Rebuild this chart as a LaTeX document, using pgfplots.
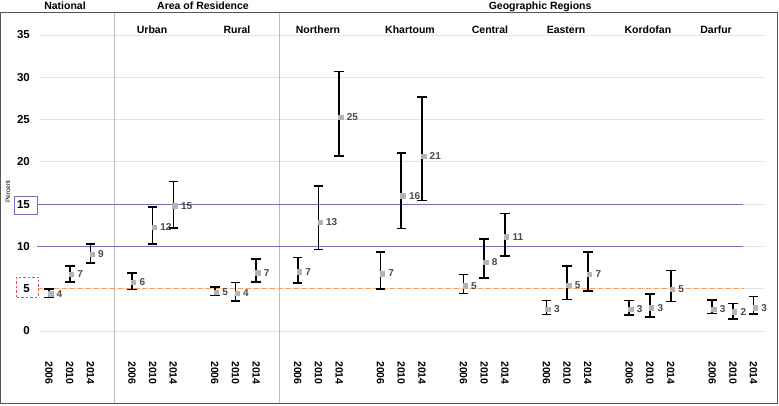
\documentclass[border=0pt]{standalone}
\usepackage{pgfplots}
\pgfplotsset{compat=1.18}
\usepackage{pgfplotstable}
\usepackage{fontspec}
\setmainfont{Liberation Sans}
\definecolor{frame}{HTML}{555555}
\definecolor{gridc}{HTML}{E4E4E4}
\definecolor{sepc}{HTML}{BDBDBD}
\definecolor{purp}{HTML}{7A6CC0}
\definecolor{orng}{HTML}{F2A064}
\definecolor{redb}{HTML}{E05050}
\definecolor{ptc}{HTML}{B4B4B4}
\definecolor{labc}{HTML}{4A4A4A}

\pgfplotstableread{
x y ep em lab
0 4.4 0.57 0.46 4
1 6.7 1.0 0.87 7
2 9.1 1.2 1.06 9
4 5.8 1.06 0.88 6
5 12.3 2.36 2.01 12
6 14.8 2.9 2.6 15
8 4.6 0.64 0.42 5
9 4.45 1.3 0.9 4
10 6.9 1.6 1.1 7
12 7.0 1.67 1.3 7
13 12.9 4.25 3.24 13
14 25.3 5.36 4.6 25
16 6.8 2.54 1.8 7
17 16.0 5.05 3.86 16
18 20.7 7.0 5.25 21
20 5.36 1.3 0.91 5
21 8.16 2.74 1.89 8
22 11.15 2.75 2.25 11
24 2.6 0.99 0.63 3
25 5.44 2.25 1.7 5
26 6.74 2.6 2.01 7
28 2.56 1.07 0.67 3
29 2.76 1.61 1.07 3
30 4.93 2.24 1.46 5
32 2.6 1.07 0.51 3
33 2.28 0.99 0.86 2
34 2.76 1.3 0.75 3
}\data

\begin{document}
\begin{tikzpicture}
\useasboundingbox (0,0) rectangle (779pt,405pt);
\begin{axis}[at={(1pt,2pt)}, anchor=south west, scale only axis,
  width=776pt, height=390pt,
  xmin=-2.317, xmax=35.13, ymin=-8.51, ymax=37.6,
  clip=false,
  axis line style={draw=frame, line width=1pt},
  xtick=\empty, ytick={0,5,...,35},
  major tick length=0pt,
  /pgf/number format/assume math mode=true,
  yticklabel style={font=\bfseries\fontsize{11.5}{13}\selectfont, anchor=east, inner sep=0pt, xshift=29pt},
]
% background gridlines
\pgfplotsinvokeforeach{0,5,...,35}{\draw[gridc, line width=0.8pt] (axis cs:-0.43,#1) -- (axis cs:34.5,#1);}
% separators
\draw[sepc, line width=0.8pt] (axis cs:3.14,-8.51) -- (axis cs:3.14,37.6);
\draw[sepc, line width=0.8pt] (axis cs:11.1,-8.51) -- (axis cs:11.1,37.6);
% reference lines
\draw[purp, line width=1pt] (axis cs:-0.58,15) -- (axis cs:33.5,15);
\draw[purp, line width=1pt] (axis cs:-0.58,10) -- (axis cs:33.5,10);
\draw[orng, line width=0.9pt, dash pattern=on 5pt off 3pt] (axis cs:-0.53,5) -- (axis cs:33.55,5);
\draw[purp, line width=0.9pt] (axis cs:-1.69,13.83) rectangle (axis cs:-0.58,15.96);
\draw[redb, line width=0.9pt, dash pattern=on 2.5pt off 2pt] (axis cs:-1.59,4.02) rectangle (axis cs:-0.53,6.39);

\addplot[ptc, only marks, mark=square*, mark size=2.2pt,
  mark options={fill=ptc, draw=ptc, xshift=1.5pt},
  point meta=explicit symbolic,
  nodes near coords,
  nodes near coords style={anchor=west, xshift=5pt, inner sep=1pt, font=\bfseries\fontsize{10}{12}\selectfont, text=labc},
  error bars/.cd, y dir=both, y explicit, error mark=-,
  error bar style={black, line width=1.7pt},
  error mark options={black, line width=1.6pt, mark size=4.8pt, rotate=90}]
  table[x=x, y=y, y error plus=ep, y error minus=em, meta=lab]{\data};

% x tick labels
\pgfplotsinvokeforeach{0,4,...,32}{\node[rotate=-90, anchor=west, inner sep=0pt, font=\bfseries\fontsize{10.5}{12}\selectfont] at (axis cs:#1,-3.55) {2006};}
\pgfplotsinvokeforeach{1,5,...,33}{\node[rotate=-90, anchor=west, inner sep=0pt, font=\bfseries\fontsize{10.5}{12}\selectfont] at (axis cs:#1,-3.55) {2010};}
\pgfplotsinvokeforeach{2,6,...,34}{\node[rotate=-90, anchor=west, inner sep=0pt, font=\bfseries\fontsize{10.5}{12}\selectfont] at (axis cs:#1,-3.55) {2014};}

% headers
\node[anchor=base, font=\bfseries\fontsize{10.5}{12}\selectfont] at (axis cs:0.77,38.02) {National};
\node[anchor=base, font=\bfseries\fontsize{10.5}{12}\selectfont] at (axis cs:7.43,38.02) {Area of Residence};
\node[anchor=base, font=\bfseries\fontsize{10.5}{12}\selectfont] at (axis cs:23.7,38.02) {Geographic Regions};
\node[anchor=base, font=\bfseries\fontsize{10.5}{12}\selectfont] at (axis cs:4.97,35.15) {Urban};
\node[anchor=base, font=\bfseries\fontsize{10.5}{12}\selectfont] at (axis cs:9.07,35.15) {Rural};
\node[anchor=base, font=\bfseries\fontsize{10.5}{12}\selectfont] at (axis cs:12.98,35.15) {Northern};
\node[anchor=base, font=\bfseries\fontsize{10.5}{12}\selectfont] at (axis cs:17.42,35.15) {Khartoum};
\node[anchor=base, font=\bfseries\fontsize{10.5}{12}\selectfont] at (axis cs:21.28,35.15) {Central};
\node[anchor=base, font=\bfseries\fontsize{10.5}{12}\selectfont] at (axis cs:24.95,35.15) {Eastern};
\node[anchor=base, font=\bfseries\fontsize{10.5}{12}\selectfont] at (axis cs:28.9,35.15) {Kordofan};
\node[anchor=base, font=\bfseries\fontsize{10.5}{12}\selectfont] at (axis cs:32.19,35.15) {Darfur};
\node[rotate=90, font=\fontsize{6.5}{8}\selectfont] at (axis cs:-1.98,16.5) {Percent};
\end{axis}
\end{tikzpicture}
\end{document}
